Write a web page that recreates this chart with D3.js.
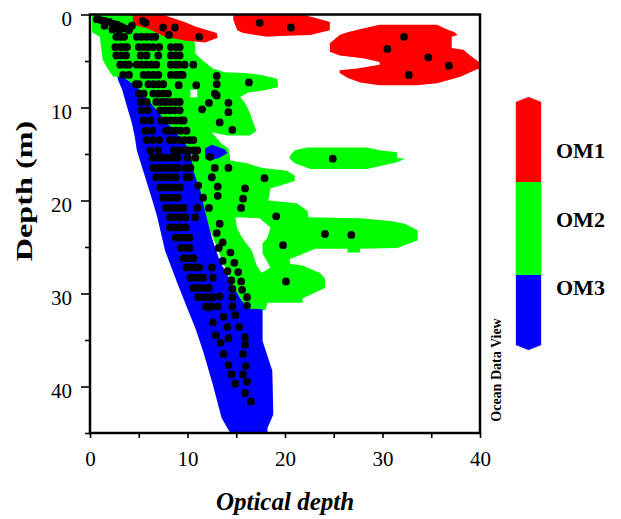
<!DOCTYPE html>
<html>
<head>
<meta charset="utf-8">
<script src="https://cdn.jsdelivr.net/npm/d3@7"></script>
<style>
body { margin: 0; background: #fff; }
text { font-family: "Liberation Serif", "Times New Roman", serif; }
</style>
</head>
<body>
<script>
// classes shown in the colour bar
var categories = ["OM1", "OM2", "OM3"];
var classColors = ["#ff0000", "#00ff00", "#0000ff"];
var legendLimits = [0.5, 1.5, 2.5, 3.5];

// axes
var xTicks = [0, 5, 10, 15, 20, 25, 30, 35, 40];
var yTicks = [0, 5, 10, 15, 20, 25, 30, 35, 40, 45];
var tickLabels = [0, 10, 20, 30, 40];

// gridded class field, outlines in (optical depth, depth)
var om2Main = [[0.2,0],[5.1,0],[10.3,1.7],[10.8,3.3],[10.8,4.2],[11.5,4.9],[12.6,5.8],[13.8,6.2],[15.9,6.3],
  [17.6,6.5],[19.2,6.9],[19.3,7.8],[18.2,8.1],[16.2,8.4],[15.4,8.9],[15.9,9.5],[16.4,10.6],[16.9,12.1],
  [17.1,12.5],[16.4,13.0],[14.1,13.0],[12.6,12.7],[12.0,11.7],[11.8,10.6],[12.1,11.6],[12.6,12.8],
  [13.5,13.9],[14.2,14.4],[14.4,15.7],[16.1,16.0],[17.7,16.5],[20.2,16.8],[21.0,17.3],[21.0,17.9],
  [19.5,18.4],[18.5,18.7],[18.3,20.0],[21.2,20.3],[22.3,21.1],[22.4,21.8],[27.7,21.9],[30.8,22.2],
  [32.3,22.5],[33.6,23.2],[33.6,24.3],[31.5,25.1],[27.7,25.2],[27.7,25.6],[26.4,25.6],[26.4,25.2],
  [23.1,25.2],[21.5,25.9],[20.5,26.3],[20.5,26.8],[21.8,27.0],[23.6,27.8],[24.1,28.4],[24.1,29.4],
  [22.9,30.0],[21.8,30.5],[21.8,31.0],[20.3,31.0],[18.2,31.0],[18.0,31.8],[16.1,31.8],[14.4,28.6],
  [12.3,23.2],[10.3,15.7],[6.2,10.3],[2.8,6.7],[2.4,6.7],[2.1,6.3],[1.3,4.9],[1.0,2.4],[0.2,1.9]];
var om2Lobe = [[20.5,15.2],[21.0,14.6],[22.3,14.3],[28.4,14.3],[29.7,14.6],[31.5,14.8],[31.5,15.4],
  [32.3,15.5],[31.5,15.9],[28.4,16.6],[22.6,16.6],[21.0,16.0],[20.5,15.5]];
var emptyCells = [
  [[14.9,21.8],[17.4,21.9],[18.5,22.9],[18.2,24.0],[17.7,24.6],[17.7,25.7],[18.5,27.2],[17.6,27.8],
   [17.1,27.0],[16.6,25.4],[15.6,24.0],[15.1,23.0]],
  [[10.3,8.1],[11.0,8.1],[11.0,8.9],[10.3,8.9]]
];
var om3Main = [[2.8,6.7],[2.9,7.1],[3.3,8.1],[3.6,9.2],[3.9,10.3],[4.3,11.7],[4.6,13.2],[4.8,14.6],
  [6.4,20.0],[6.9,21.8],[7.7,25.4],[9.0,29.0],[10.1,31.9],[10.8,33.7],[11.6,36.2],[12.6,39.8],
  [13.5,43.4],[14.1,44.5],[14.4,45],[18.2,45],[18.2,44.5],[18.8,43.0],[18.7,38.3],[17.7,35.1],
  [17.7,31.7],[16.1,31.6],[15.4,30.5],[14.4,28.6],[13.3,26.5],[12.5,24.0],[11.8,21.1],[11.3,18.9],
  [10.6,16.8],[10.3,14.6],[9.2,13.2],[7.7,11.4],[6.2,9.5],[5.1,8.1],[3.9,7.1],[3.3,6.7]];
var om3Patch = [[11.8,14.4],[12.5,14.0],[13.8,14.5],[14.1,14.9],[13.3,15.4],[12.3,15.7],[11.8,15.5]];
var om1Patches = [
  [[4.4,0],[7.4,0],[9.7,0.8],[10.8,1.3],[13.0,2.0],[13.1,2.5],[11.8,3.0],[9.7,2.8],[7.7,2.4],[5.9,1.5],[4.4,1.1]],
  [[14.7,0],[21.8,0],[23.9,0.6],[24.6,0.8],[24.6,1.7],[22.6,2.2],[19.5,2.3],[18.2,2.4],[15.7,2.0],[15.1,1.7],[14.7,0.6]],
  [[29.7,1.1],[35.6,1.1],[36.4,1.5],[37.4,1.9],[37.7,2.2],[37.1,2.4],[37.1,3.6],[38.3,3.8],[39.0,4.4],
   [39.9,5.1],[39.9,5.8],[39.0,6.2],[38.0,6.7],[35.6,7.4],[33.5,7.6],[29.7,7.6],[27.7,7.3],[26.4,6.8],
   [25.6,6.3],[25.6,6.0],[27.4,5.8],[29.7,5.4],[29.7,5.1],[28.0,4.7],[25.6,4.4],[24.6,4.0],[24.6,3.1],
   [25.6,2.2],[26.4,1.9],[28.0,1.5]]
];

// samples: rows of the dense band [depth, optical depths]
var profileRows = [
  [2.4, [2.7,3.1,3.5,4.8,5.3,5.8,6.3,6.7]],
  [3.5, [2.6,3.1,3.5,3.8,5.0,5.5,6.0,6.5,7.1,8.3,8.8,9.2]],
  [4.4, [2.7,3.2,3.7,5.2,5.8,7.0,8.3,8.8,9.2]],
  [5.4, [3.1,3.6,4.0,4.8,5.3,5.8,6.3,6.8,8.3,8.8,9.1]],
  [6.5, [3.4,4.0,5.5,6.0,6.5,7.0,8.3,8.8,9.2]],
  [7.5, [4.7,5.0,6.0,6.5,7.0,7.5]],
  [8.5, [5.0,5.5,6.5,7.0,7.5,8.0]],
  [9.4, [5.2,5.8,6.8,7.3,7.8,8.3,8.8,9.2]],
  [10.3, [5.3,5.9,7.2,7.7,8.2,8.7,9.2]],
  [11.4, [5.5,6.2,7.3,7.8,8.3,8.8,9.3,9.6]],
  [12.5, [5.7,6.4,7.8,8.3,8.8,9.3,9.9]],
  [13.5, [5.8,6.4,7.1,8.2,8.7,9.2,9.7,10.2,10.6]],
  [14.6, [6.2,7.0,8.6,9.1,9.6,10.1,10.6,11.0]],
  [15.4, [6.4,6.9,7.4,7.9,8.4,9.0,10.0,10.8]],
  [16.5, [6.5,7.0,7.5,8.0,8.5,9.0,9.8,10.3]],
  [17.5, [6.8,7.3,7.8,8.3,8.8,9.9,10.2]],
  [18.6, [7.2,7.7,8.2,8.7,9.2]],
  [19.7, [7.5,8.0,8.5,9.0]],
  [20.8, [7.8,8.3,8.8,9.3,9.6]],
  [21.8, [8.2,8.7,9.2,9.8,10.8]],
  [22.9, [8.2,8.7,9.2,9.8]],
  [24.0, [8.8,9.3,9.8,10.2]],
  [25.1, [9.3,9.8,10.2]],
  [26.2, [9.6,10.1,10.6]],
  [27.2, [9.9,10.4,10.9,11.2,12.5]],
  [28.3, [10.3,10.8,11.3,11.6,12.6]],
  [29.4, [10.6,11.1,11.6,12.2]],
  [30.4, [11.1,11.6,12.1,12.6]],
  [31.4, [11.9,12.4]]
];
// other samples [optical depth, depth]
var surfaceDots = [[0.7,0.5],[1.1,0.6],[1.5,0.7],[2.0,0.8],[2.4,1.0],[2.8,1.1],[3.2,1.3],[3.6,1.5],
  [4.0,1.7],[1.5,1.2],[2.3,1.6],[3.0,1.7],[4.3,1.2],[5.4,0.7],[5.7,0.9],[7.5,1.4],[8.7,1.4],[8.1,2.2],
  [11.2,2.4],[17.4,0.9],[20.6,1.4],[32.2,2.4],[30.5,3.7],[34.7,4.6],[36.8,5.5],[32.7,6.5]];
var scatteredDots = [[13.0,6.6],[13.0,7.5],[12.8,8.5],[13.0,8.7],[14.2,9.5],[14.2,10.5],[13.3,11.6],
  [14.6,12.4],[12.2,9.5],[11.5,10.2],[10.9,7.6],[9.7,5.4],[10.6,5.4],[9.5,6.5],[16.3,7.3],[9.1,7.6],
  [24.9,15.5],[24.1,23.6],[26.8,23.7],[19.8,24.8],[20.1,28.7],[19.1,21.7],[17.9,17.6],[15.9,18.7],
  [15.7,19.8],[15.5,20.8],[12.3,15.3],[12.8,16.5],[14.2,16.5],[12.5,17.5],[11.1,18.4],[13.1,18.5],
  [11.6,19.7],[13.1,19.5],[12.2,20.8],[11.0,20.8],[13.3,22.5],[13.0,23.5],[13.6,24.5],[14.4,25.6],
  [13.2,25.1],[13.6,26.5],[14.8,26.7],[14.1,27.6],[15.2,27.7],[14.5,28.6],[15.5,28.7],[14.6,29.5],
  [15.6,29.6],[13.3,30.3],[14.6,30.4],[16.1,30.4],[13.1,31.4],[14.6,31.4],[16.1,31.3],[12.1,31.5]];
var deepDots = [[13.7,32.5],[14.9,32.3],[12.6,33.1],[14.1,33.6],[15.3,33.6],[12.9,34.5],[14.2,34.8],
  [15.9,34.7],[13.4,35.3],[15.9,35.5],[13.7,36.5],[15.7,36.5],[14.2,37.7],[16.0,37.8],[14.5,38.7],
  [15.7,38.7],[16.1,39.5],[14.9,39.7],[15.9,40.7],[16.5,41.6]];

var x = d3.scaleLinear().domain([0, 40]).range([90, 480]);
var y = d3.scaleLinear().domain([0, 45]).range([14.5, 433]);

var svg = d3.select("body").append("svg")
  .attr("width", 621)
  .attr("height", 519);

svg.append("clipPath").attr("id", "plotClip")
  .append("rect")
  .attr("x", x(0)).attr("y", y(0))
  .attr("width", x(40) - x(0)).attr("height", y(45) - y(0));

var outline = d3.line()
  .x(function(d){ return x(d[0]); })
  .y(function(d){ return y(d[1]); })
  .curve(d3.curveLinearClosed);

var field = svg.append("g").attr("clip-path", "url(#plotClip)");

function drawArea(pts, color) {
  field.append("path").attr("d", outline(pts)).attr("fill", color);
}

drawArea(om2Main, classColors[1]);
drawArea(om2Lobe, classColors[1]);
emptyCells.forEach(function(p){ drawArea(p, "#fff"); });
drawArea(om3Main, classColors[2]);
drawArea(om3Patch, classColors[2]);
om1Patches.forEach(function(p){ drawArea(p, classColors[0]); });

// samples
var dots = [];
profileRows.forEach(function(r){
  r[1].forEach(function(v){ dots.push([v, r[0]]); });
});
dots = dots.concat(surfaceDots, scatteredDots, deepDots);

field.selectAll("circle.sample")
  .data(dots)
  .enter().append("circle")
  .attr("class", "sample")
  .attr("cx", function(d){ return x(d[0]); })
  .attr("cy", function(d){ return y(d[1]); })
  .attr("r", 3.9)
  .attr("fill", "#000");

// axes
var yAxis = d3.axisLeft(y)
  .tickValues(yTicks)
  .tickSize(9)
  .tickPadding(9)
  .tickFormat(function(d){ return tickLabels.indexOf(d) >= 0 ? d : ""; });

var gy = svg.append("g").attr("transform", "translate(" + x(0) + ",0)").call(yAxis);
gy.select(".domain").remove();
gy.selectAll(".tick line")
  .attr("stroke-width", 1.6)
  .attr("x2", function(d){ return tickLabels.indexOf(d) >= 0 ? -9 : -5; });
gy.selectAll(".tick text")
  .attr("font-size", 21)
  .attr("dy", "0.5em")
  .attr("font-family", "Liberation Serif, serif");

var xAxis = d3.axisBottom(x)
  .tickValues(xTicks)
  .tickSize(5)
  .tickPadding(13)
  .tickFormat(function(d){ return tickLabels.indexOf(d) >= 0 ? d : ""; });

var gx = svg.append("g").attr("transform", "translate(0," + y(45) + ")").call(xAxis);
gx.select(".domain").remove();
gx.selectAll(".tick line").attr("stroke-width", 1.6);
gx.selectAll(".tick text")
  .attr("font-size", 21)
  .attr("font-family", "Liberation Serif, serif");

// frame
svg.append("rect")
  .attr("x", x(0)).attr("y", y(0))
  .attr("width", x(40) - x(0)).attr("height", y(45) - y(0))
  .attr("fill", "none")
  .attr("stroke", "#000")
  .attr("stroke-width", 2.5);

svg.append("text")
  .attr("transform", "translate(32,191) rotate(-90) scale(1.4,1)")
  .attr("text-anchor", "middle")
  .attr("font-size", 23)
  .attr("font-weight", "bold")
  .text("Depth (m)");

svg.append("text")
  .attr("x", 285).attr("y", 510)
  .attr("text-anchor", "middle")
  .attr("font-size", 25)
  .attr("font-weight", "bold")
  .attr("font-style", "italic")
  .text("Optical depth");

svg.append("text")
  .attr("transform", "translate(501,370) rotate(-90)")
  .attr("text-anchor", "middle")
  .attr("font-size", 14)
  .attr("font-weight", "bold")
  .text("Ocean Data View");

// colour bar
var barLeft = 516, barRight = 541, barMid = (barLeft + barRight) / 2;
var barY = d3.scaleLinear().domain(legendLimits).range([97, 182, 275, 350]);
var tip = 5;
var barShape = [[barLeft, barY(0.5) + tip], [barMid, barY(0.5)], [barRight, barY(0.5) + tip],
  [barRight, barY(3.5) - tip], [barMid, barY(3.5)], [barLeft, barY(3.5) - tip]];

svg.append("clipPath").attr("id", "barClip")
  .append("path").attr("d", "M" + barShape.join("L") + "Z");

svg.append("path")
  .attr("d", "M" + barShape.join("L") + "Z")
  .attr("fill", "none")
  .attr("stroke", "#ddd")
  .attr("stroke-width", 2);

svg.append("g").attr("clip-path", "url(#barClip)")
  .selectAll("rect")
  .data(categories)
  .enter().append("rect")
  .attr("x", barLeft)
  .attr("width", barRight - barLeft)
  .attr("y", function(d, i){ return barY(legendLimits[i]); })
  .attr("height", function(d, i){ return barY(legendLimits[i + 1]) - barY(legendLimits[i]); })
  .attr("fill", function(d, i){ return classColors[i]; });

var labelY = d3.scalePoint().domain(categories).range([158, 295]);
svg.selectAll("text.om")
  .data(categories)
  .enter().append("text")
  .attr("class", "om")
  .attr("x", 556)
  .attr("y", function(d){ return labelY(d); })
  .attr("font-size", 22)
  .attr("font-weight", "bold")
  .text(function(d){ return d; });
</script>
</body>
</html>
